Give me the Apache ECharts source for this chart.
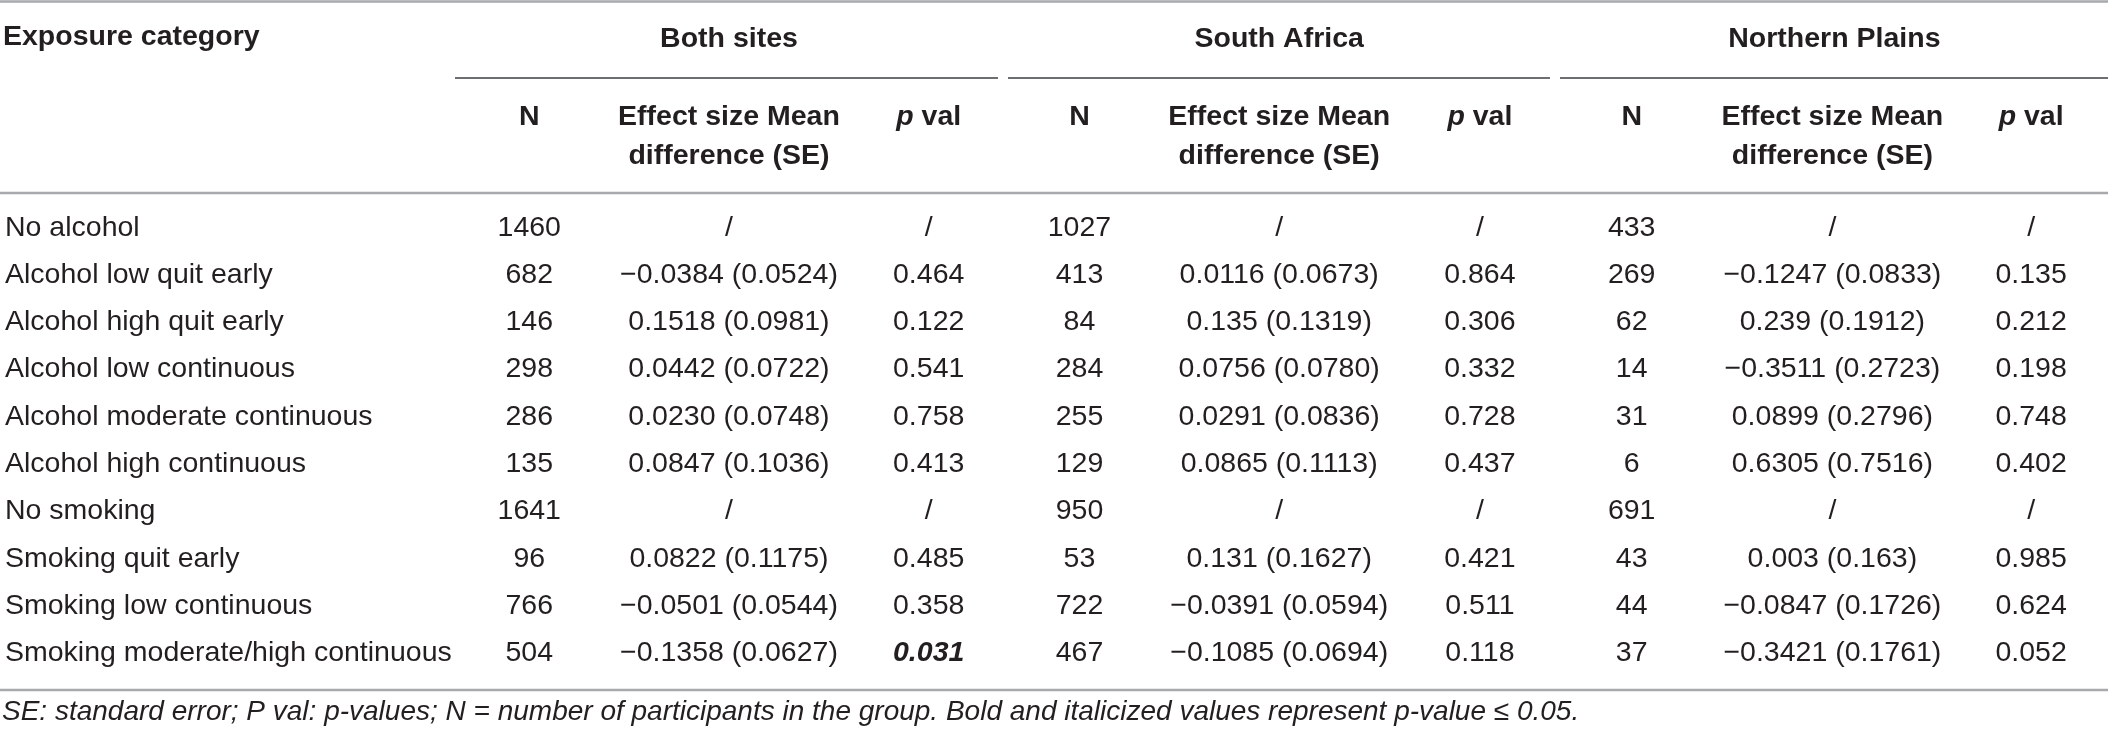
<!DOCTYPE html>
<html>
<head>
<meta charset="utf-8">
<script src="https://cdn.jsdelivr.net/npm/echarts@6/dist/echarts.min.js"></script>
<style>
  html, body { margin: 0; padding: 0; background: #fff; }
  #table { width: 2108px; height: 733px; }
</style>
</head>
<body>
<div id="table"></div>
<script>
// rows of the table
var rowLabels = [
    'No alcohol', 'Alcohol low quit early', 'Alcohol high quit early', 'Alcohol low continuous',
    'Alcohol moderate continuous', 'Alcohol high continuous', 'No smoking', 'Smoking quit early',
    'Smoking low continuous', 'Smoking moderate/high continuous'
];
var sites = ['Both sites', 'South Africa', 'Northern Plains'];
var columnHeads = ['N', 'Effect size Mean\ndifference (SE)', 'p val'];

// Both sites
var bothN    = [1460, 682, 146, 298, 286, 135, 1641, 96, 766, 504];
var bothMean = [null, '-0.0384', '0.1518', '0.0442', '0.0230', '0.0847', null, '0.0822', '-0.0501', '-0.1358'];
var bothSE   = [null, '0.0524', '0.0981', '0.0722', '0.0748', '0.1036', null, '0.1175', '0.0544', '0.0627'];
var bothP    = [null, '0.464', '0.122', '0.541', '0.758', '0.413', null, '0.485', '0.358', '0.031'];

// South Africa
var saN    = [1027, 413, 84, 284, 255, 129, 950, 53, 722, 467];
var saMean = [null, '0.0116', '0.135', '0.0756', '0.0291', '0.0865', null, '0.131', '-0.0391', '-0.1085'];
var saSE   = [null, '0.0673', '0.1319', '0.0780', '0.0836', '0.1113', null, '0.1627', '0.0594', '0.0694'];
var saP    = [null, '0.864', '0.306', '0.332', '0.728', '0.437', null, '0.421', '0.511', '0.118'];

// Northern Plains
var npN    = [433, 269, 62, 14, 31, 6, 691, 43, 44, 37];
var npMean = [null, '-0.1247', '0.239', '-0.3511', '0.0899', '0.6305', null, '0.003', '-0.0847', '-0.3421'];
var npSE   = [null, '0.0833', '0.1912', '0.2723', '0.2796', '0.7516', null, '0.163', '0.1726', '0.1761'];
var npP    = [null, '0.135', '0.212', '0.198', '0.748', '0.402', null, '0.985', '0.624', '0.052'];

var footnote = 'SE: standard error; P val: p-values; N = number of participants in the group. ' +
    'Bold and italicized values represent p-value \u2264 0.05.';

// layout: column centres on the x scale
var colX = [527, 727, 927, 1078, 1278, 1479, 1631, 1832, 2031];

var siteData = [
    { n: bothN, mean: bothMean, se: bothSE, p: bothP },
    { n: saN, mean: saMean, se: saSE, p: saP },
    { n: npN, mean: npMean, se: npSE, p: npP }
];

var FONT = 'Liberation Sans';
var INK = '#231f20';
var FS = 28.5;

function minus(s) {
    return s.replace('-', '\u2212');
}

function siteSeries(s) {
    var d = siteData[s];
    return {
        type: 'custom',
        name: sites[s],
        xAxisIndex: 0,
        yAxisIndex: 0,
        data: rowLabels.map(function (r, i) { return [colX[s * 3], i]; }),
        encode: { x: 0, y: 1 },
        silent: true,
        renderItem: function (params, api) {
            var i = params.dataIndex;
            var cells = [
                String(d.n[i]),
                d.mean[i] === null ? '/' : minus(d.mean[i]) + ' (' + d.se[i] + ')',
                d.p[i] === null ? '/' : d.p[i]
            ];
            return {
                type: 'group',
                children: cells.map(function (t, k) {
                    var pt = api.coord([colX[s * 3 + k], i]);
                    var sig = k === 2 && d.p[i] !== null && parseFloat(d.p[i]) <= 0.05;
                    return {
                        type: 'text',
                        x: pt[0],
                        y: pt[1],
                        style: {
                            text: t,
                            align: 'center',
                            verticalAlign: 'middle',
                            fontFamily: FONT,
                            fontSize: FS,
                            fontWeight: sig ? 'bold' : 'normal',
                            fontStyle: sig ? 'italic' : 'normal',
                            fill: INK
                        }
                    };
                })
            };
        }
    };
}

var dom = document.getElementById('table');
var myChart = echarts.init(dom, null, { renderer: 'canvas' });

var option = {
    backgroundColor: '#fff',
    animation: false,
    title: {
        text: footnote,
        left: 2,
        top: 696,
        padding: 0,
        textStyle: {
            fontFamily: FONT,
            fontSize: 28,
            fontWeight: 'normal',
            fontStyle: 'italic',
            color: INK,
            lineHeight: 32
        }
    },
    grid: { left: 0, right: 0, top: 204, bottom: 56, containLabel: false },
    xAxis: [{
        // column headings
        type: 'value',
        position: 'top',
        min: 0,
        max: 2108,
        axisLine: { show: false },
        axisTick: { show: false },
        splitLine: { show: false },
        axisLabel: {
            customValues: colX,
            margin: 28,
            fontFamily: FONT,
            fontSize: FS,
            fontWeight: 'bold',
            color: INK,
            lineHeight: 39,
            align: 'center',
            formatter: function (v) {
                var k = colX.indexOf(v) % 3;
                if (k === 0) return columnHeads[0] + '\n ';
                if (k === 1) return columnHeads[1];
                return '{i|p} val\n ';
            },
            rich: {
                i: { fontFamily: FONT, fontSize: FS, fontWeight: 'bold', fontStyle: 'italic', color: INK, lineHeight: 39 }
            }
        }
    }, {
        // site headings, centred over the effect column
        type: 'value',
        position: 'top',
        min: 0,
        max: 2108,
        axisLine: { show: false },
        axisTick: { show: false },
        splitLine: { show: false },
        axisLabel: {
            customValues: [colX[1], colX[4], colX[7] + 2],
            margin: 150,
            fontFamily: FONT,
            fontSize: FS,
            fontWeight: 'bold',
            color: INK,
            formatter: function (v) {
                var idx = [colX[1], colX[4], colX[7] + 2].indexOf(v);
                return sites[idx];
            }
        }
    }],
    yAxis: {
        type: 'category',
        inverse: true,
        data: rowLabels,
        name: 'Exposure category',
        nameLocation: 'start',
        nameGap: 167,
        nameTextStyle: {
            fontFamily: FONT,
            fontSize: FS,
            fontWeight: 'bold',
            color: INK,
            align: 'left',
            verticalAlign: 'middle'
        },
        axisLine: { show: false },
        axisTick: { show: false },
        splitLine: { show: false },
        axisLabel: {
            inside: true,
            margin: 2,
            fontFamily: FONT,
            fontSize: FS,
            color: INK
        }
    },
    graphic: [
        { type: 'line', shape: { x1: 0, y1: 1.5, x2: 2108, y2: 1.5 }, style: { stroke: '#a7a9ac', lineWidth: 2.5 } },
        { type: 'line', shape: { x1: 455, y1: 78, x2: 998, y2: 78 }, style: { stroke: '#6d6e71', lineWidth: 1.8 } },
        { type: 'line', shape: { x1: 1008, y1: 78, x2: 1550, y2: 78 }, style: { stroke: '#6d6e71', lineWidth: 1.8 } },
        { type: 'line', shape: { x1: 1560, y1: 78, x2: 2108, y2: 78 }, style: { stroke: '#6d6e71', lineWidth: 1.8 } },
        { type: 'line', shape: { x1: 0, y1: 193, x2: 2108, y2: 193 }, style: { stroke: '#a7a9ac', lineWidth: 2.5 } },
        { type: 'line', shape: { x1: 0, y1: 690, x2: 2108, y2: 690 }, style: { stroke: '#a7a9ac', lineWidth: 2.5 } }
    ],
    series: [siteSeries(0), siteSeries(1), siteSeries(2)]
};

if (option && typeof option === 'object') {
    myChart.setOption(option, true);
}
</script>
</body>
</html>
